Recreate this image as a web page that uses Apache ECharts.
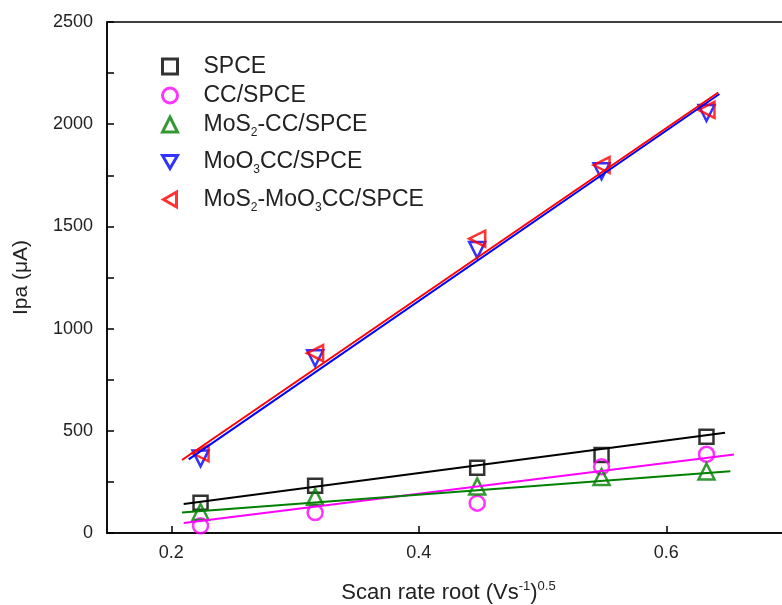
<!DOCTYPE html>
<html>
<head>
<meta charset="utf-8">
<script src="https://cdn.jsdelivr.net/npm/echarts@6/dist/echarts.min.js"></script>
<style>
  html, body { margin: 0; padding: 0; background: #fff; }
  #main { width: 782px; height: 605px; }
</style>
</head>
<body>
<div id="main"></div>
<script>
// x: square root of scan rate (V/s)^0.5
const scanRateRoot = [0.2236, 0.3162, 0.4472, 0.5477, 0.6325];

// Ipa (uA) for each electrode
const ipaSPCE = [148, 231, 319, 381, 471];
const ipaCC = [35, 100, 146, 324, 385];
const ipaMoS2 = [103, 177, 228, 274, 301];
const ipaMoO3 = [365, 855, 1385, 1770, 2055];
const ipaMoS2MoO3 = [390, 880, 1440, 1800, 2070];

const seriesNames = ["SPCE", "CC/SPCE", "MoS2-CC/SPCE", "MoO3CC/SPCE", "MoS2-MoO3CC/SPCE"];
const seriesValues = [ipaSPCE, ipaCC, ipaMoS2, ipaMoO3, ipaMoS2MoO3];

// linear fit lines (start / end)
const fitXStart = [0.210, 0.210, 0.2086, 0.214, 0.2086];
const fitXEnd = [0.6475, 0.6547, 0.6518, 0.643, 0.642];
const fitYStart = [142, 49, 100, 360, 357];
const fitYEnd = [490, 384, 302, 2148, 2155];

const colors = ["#000000", "#ff00ff", "#008000", "#0000ff", "#ff0000"];
const symbols = ["rect", "circle", "triangle", "triangle", "triangle"];
const symbolRotates = [0, 0, 0, 180, 90];
const symbolSizes = [14, 15, 16, 16, 16];
// 图例图标（旋转的三角形用 path）
const legendIcons = [
  "rect",
  "circle",
  "triangle",
  "path://M0,0L20,0L10,17.3Z",
  "path://M0,10L17.3,0L17.3,20Z",
];

const fontFamily = "'Liberation Sans', Arial, sans-serif";

var myChart = echarts.init(document.getElementById("main"), null, { renderer: "canvas" });

// 图例文字：下标用 rich
function legendText(name) {
  var hasSub = /S2|O3/.test(name);
  var tag = hasSub ? "m" : "n";
  var out = "{" + tag + "|" + name + "}";
  out = out.replace("MoS2", "MoS}{sub|2}{" + tag + "|");
  out = out.replace("MoO3", "MoO}{sub|3}{" + tag + "|");
  out = out.replace(/\{[nm]\|\}/g, "");
  return out;
}

var series = [];
// fit lines first, markers drawn on top
for (var i = 0; i < seriesNames.length; i++) {
  series.push({
    name: seriesNames[i] + " fit",
    type: "line",
    data: [[fitXStart[i], fitYStart[i]], [fitXEnd[i], fitYEnd[i]]],
    showSymbol: false,
    silent: true,
    lineStyle: { color: colors[i], width: 2 },
    animation: false,
  });
}
var legendData = [];
for (var j = 0; j < seriesNames.length; j++) {
  series.push({
    name: seriesNames[j],
    type: "scatter",
    data: scanRateRoot.map(function (x, k) {
      return [x, seriesValues[j][k]];
    }),
    symbol: symbols[j],
    symbolSize: symbolSizes[j],
    symbolRotate: symbolRotates[j],
    itemStyle: {
      color: "rgba(0,0,0,0)",
      borderColor: colors[j],
      borderWidth: 2.5,
    },
    animation: false,
  });
  legendData.push({
    name: seriesNames[j],
    icon: legendIcons[j],
    itemStyle: {
      color: "rgba(0,0,0,0)",
      borderColor: colors[j],
      borderWidth: 3,
    },
  });
}

var option = {
  backgroundColor: "#ffffff",
  animation: false,
  grid: {
    left: 107,
    right: -8,
    top: 22,
    bottom: 72,
    show: true,
    borderColor: "#000",
    borderWidth: 1.5,
    backgroundColor: "rgba(0,0,0,0)",
    outerBoundsMode: "none",
  },
  legend: {
    orient: "vertical",
    left: 161,
    top: 55,
    padding: 0,
    itemGap: 6,
    itemWidth: 15,
    itemHeight: 15,
    data: legendData,
    formatter: legendText,
    textStyle: {
      color: "#222",
      fontFamily: fontFamily,
      fontSize: 23,
      padding: [0, 0, 0, 21],
      rich: {
        n: { fontSize: 23, fontFamily: fontFamily, color: "#222", lineHeight: 26 },
        m: { fontSize: 23, fontFamily: fontFamily, color: "#222", lineHeight: 26, verticalAlign: "middle" },
        sub: { fontSize: 12, fontFamily: fontFamily, color: "#222", lineHeight: 40, verticalAlign: "bottom", padding: [0, 0, 6, 0] },
      },
    },
  },
  xAxis: {
    type: "value",
    min: 0.148,
    max: 0.7,
    splitNumber: 3,
    minInterval: 0.2,
    maxInterval: 0.2,
    name: "{m|Scan rate root (Vs}{sup|-1}{m|)}{sup|0.5}",
    nameLocation: "middle",
    nameGap: 47,
    nameTextStyle: {
      rich: {
        m: { fontSize: 22, fontFamily: fontFamily, color: "#222", lineHeight: 26 },
        sup: { fontSize: 13, fontFamily: fontFamily, color: "#222", lineHeight: 26, verticalAlign: "top" },
      },
    },
    axisLine: { show: true, onZero: false, lineStyle: { color: "#000", width: 1.5 } },
    axisTick: { show: true, inside: true, length: 7, lineStyle: { color: "#000", width: 1.5 } },
    axisLabel: {
      show: true,
      showMinLabel: false,
      showMaxLabel: false,
      margin: 11,
      fontSize: 18,
      fontFamily: fontFamily,
      color: "#222",
    },
    splitLine: { show: false },
  },
  yAxis: {
    type: "value",
    min: 0,
    max: 2500,
    interval: 500,
    name: "Ipa (\u03bcA)",
    nameLocation: "middle",
    nameGap: 75,
    nameTextStyle: { fontSize: 21, fontFamily: fontFamily, color: "#222" },
    axisLine: { show: true, onZero: false, lineStyle: { color: "#000", width: 1.5 } },
    axisTick: { show: true, inside: true, length: 7, lineStyle: { color: "#000", width: 1.5 } },
    minorTick: { show: true, splitNumber: 2, length: 7, lineStyle: { color: "#000", width: 1.5 } },
    axisLabel: {
      margin: 14,
      fontSize: 18,
      fontFamily: fontFamily,
      color: "#222",
      formatter: function (v) {
        return String(v);
      },
    },
    splitLine: { show: false },
    minorSplitLine: { show: false },
  },
  series: series,
};

myChart.setOption(option);
</script>
</body>
</html>
